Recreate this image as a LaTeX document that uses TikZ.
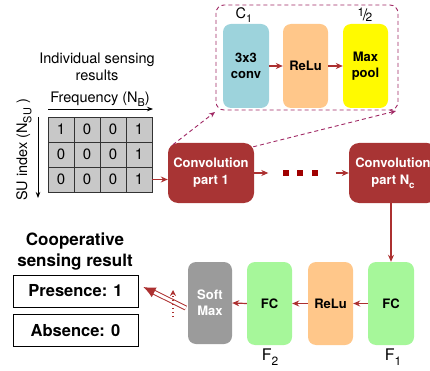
\documentclass[tikz,border=0pt]{standalone}
\usepackage{fontspec}
\setmainfont{TeX Gyre Heros}
\usetikzlibrary{arrows.meta}
\newcommand\lsub[1]{\raisebox{-0.55ex}{\scalebox{0.75}{#1}}}
\newcommand\myhalf{\raisebox{0.45ex}{\scalebox{0.75}{1}}\kern-1.5pt/\kern-1.5pt\raisebox{-0.2ex}{\scalebox{0.75}{2}}}
\definecolor{convblue}{RGB}{157,211,220}
\definecolor{reluorange}{RGB}{255,199,138}
\definecolor{poolyellow}{RGB}{255,250,0}
\definecolor{fcgreen}{RGB}{166,247,154}
\definecolor{convred}{RGB}{168,52,52}
\definecolor{arrred}{RGB}{172,48,48}
\definecolor{dotred}{RGB}{160,0,0}
\definecolor{smgray}{RGB}{155,155,155}
\definecolor{cellgray}{RGB}{200,200,200}
\definecolor{dashpurple}{RGB}{160,40,100}
\tikzset{
  layer/.style={rounded corners=8pt, inner sep=0pt, align=center,
    font=\fontsize{13}{16}\selectfont\bfseries, minimum height=84pt},
  convpart/.style={rounded corners=10pt, fill=convred, inner sep=0pt, align=center,
    text=white, font=\fontsize{13}{17}\selectfont\bfseries, minimum width=86pt, minimum height=60pt},
  cell/.style={draw=black!80, fill=cellgray, minimum width=26pt, minimum height=25pt,
    inner sep=0pt, font=\fontsize{15}{15}\selectfont},
  lbl/.style={font=\fontsize{14.5}{17}\selectfont, align=center, inner sep=0pt},
  arr/.style={draw=arrred, line width=1.2pt, -{Stealth[length=7pt,width=6pt]}},
  blk/.style={draw=black, line width=0.8pt, -{Stealth[length=6pt,width=4.5pt]}},
  dasharr/.style={draw=dashpurple, line width=0.9pt, dash pattern=on 4pt off 3pt,
    -{Stealth[length=6pt,width=5pt]}},
  outbox/.style={draw=black, line width=0.8pt, minimum width=125pt, minimum height=32pt,
    inner sep=0pt, font=\fontsize{16.5}{18}\selectfont\bfseries},
  dotsq/.style={fill=dotred, minimum size=6pt, inner sep=0pt},
}
\begin{document}
\begin{tikzpicture}[x=1pt,y=-1pt]
\useasboundingbox (0,0) rectangle (430,371);

% dashed box with inner layers
\draw[draw=dashpurple, line width=0.9pt, dash pattern=on 4pt off 3pt, rounded corners=8pt]
  (216,5) rectangle (398,110);
\node[lbl] (c1lbl) at (244,15) {C\lsub{1}};
\node[lbl, font=\fontsize{16}{16}\selectfont] (half) at (365,15) {\myhalf};
\node[layer, fill=convblue, minimum width=46pt] (conv3) at (246,66) {3x3\\conv};
\node[layer, fill=reluorange, minimum width=45pt] (relu1) at (305.5,66) {ReLu};
\node[layer, fill=poolyellow, minimum width=45pt] (pool) at (365.5,66) {Max\\pool};
\draw[arr] (conv3.east) -- (relu1.west);
\draw[arr] (relu1.east) -- (pool.west);

% input labels
\node[lbl] (indiv) at (97,67) {Individual sensing\\results};
\node[lbl] (freq) at (100,99) {Frequency (N\lsub{B})};
\node[lbl, rotate=90] (suidx) at (24,150) {SU index (N\lsub{SU} )};
\coordinate (fa) at (48,109);
\coordinate (fb) at (153,109);
\draw[blk] (fa) -- (fb);
\coordinate (sa) at (38,117);
\coordinate (sb) at (38,198);
\draw[blk] (sa) -- (sb);

% grid
\foreach \r/\vals in {1/{1,0,0,1},2/{0,0,0,1},3/{0,0,0,1}}{
  \foreach \v [count=\c] in \vals {
    \node[cell] (g\r\c) at (35+26*\c, 104.5+25*\r) {\v};
  }
}

% convolution parts
\node[convpart] (conv1) at (211,173) {Convolution\\part 1};
\node[convpart, minimum width=88pt] (convN) at (393,173) {Convolution\\part N\lsub{c}};
\node[dotsq] (d1) at (285.5,173) {};
\node[dotsq] (d2) at (300,173) {};
\node[dotsq] (d3) at (314.5,173) {};
\draw[arr] (g34.east) -- (g34.east -| conv1.west);
\draw[arr] (conv1.east) -- ([xshift=-14pt]d1.west);
\draw[arr] ([xshift=18pt]d3.east) -- (convN.west);

% dashed zoom lines
\coordinate (zl) at (215,112);
\coordinate (zr) at (396,111);
\draw[dasharr] ([shift={(5,2)}]conv1.north west) -- (zl);
\draw[dasharr] ([shift={(-1,4)}]conv1.north east) -- (zr);

% fully connected part
\node[layer, fill=fcgreen, minimum width=46pt, minimum height=83pt] (fc1) at (391,303.5) {FC};
\node[layer, fill=reluorange, minimum width=45pt, minimum height=83pt] (relu2) at (330.5,303.5) {ReLu};
\node[layer, fill=fcgreen, minimum width=45pt, minimum height=83pt] (fc2) at (269.5,303.5) {FC};
\node[layer, fill=smgray, text=white, minimum width=44pt, minimum height=82pt] (soft) at (210,303) {Soft\\Max};
\node[lbl, font=\fontsize{16}{17}\selectfont] (f1lbl) at (393,357) {F\lsub{1}};
\node[lbl, font=\fontsize{16}{17}\selectfont] (f2lbl) at (270,357) {F\lsub{2}};
\draw[arr] (convN.south -| fc1.north) -- (fc1.north);
\draw[arr] (fc1.west) -- (relu2.east);
\draw[arr] (relu2.west) -- (fc2.east);
\draw[arr] (fc2.west) -- (soft.east);

% result
\node[lbl, font=\fontsize{17}{21}\selectfont\bfseries] (coop) at (75,252) {Cooperative\\sensing result};
\node[outbox] (pres) at (75.5,291) {Presence: 1};
\node[outbox] (abs) at (75.5,330.5) {Absence: 0};
\draw[draw=arrred, line width=1pt, double=white, double distance=3pt,
  -{Latex[length=12pt,width=11pt,fill=arrred]}] ([shift={(-2,5)}]soft.west) -- ([shift={(5,-4)}]pres.east);
\coordinate (dta) at (173,317);
\coordinate (dtb) at (173,290);
\draw[draw=arrred, line width=1.2pt, dash pattern=on 1.5pt off 2.5pt, -{Stealth[length=6pt,width=6pt]}] (dta) -- (dtb);
\end{tikzpicture}
\end{document}
